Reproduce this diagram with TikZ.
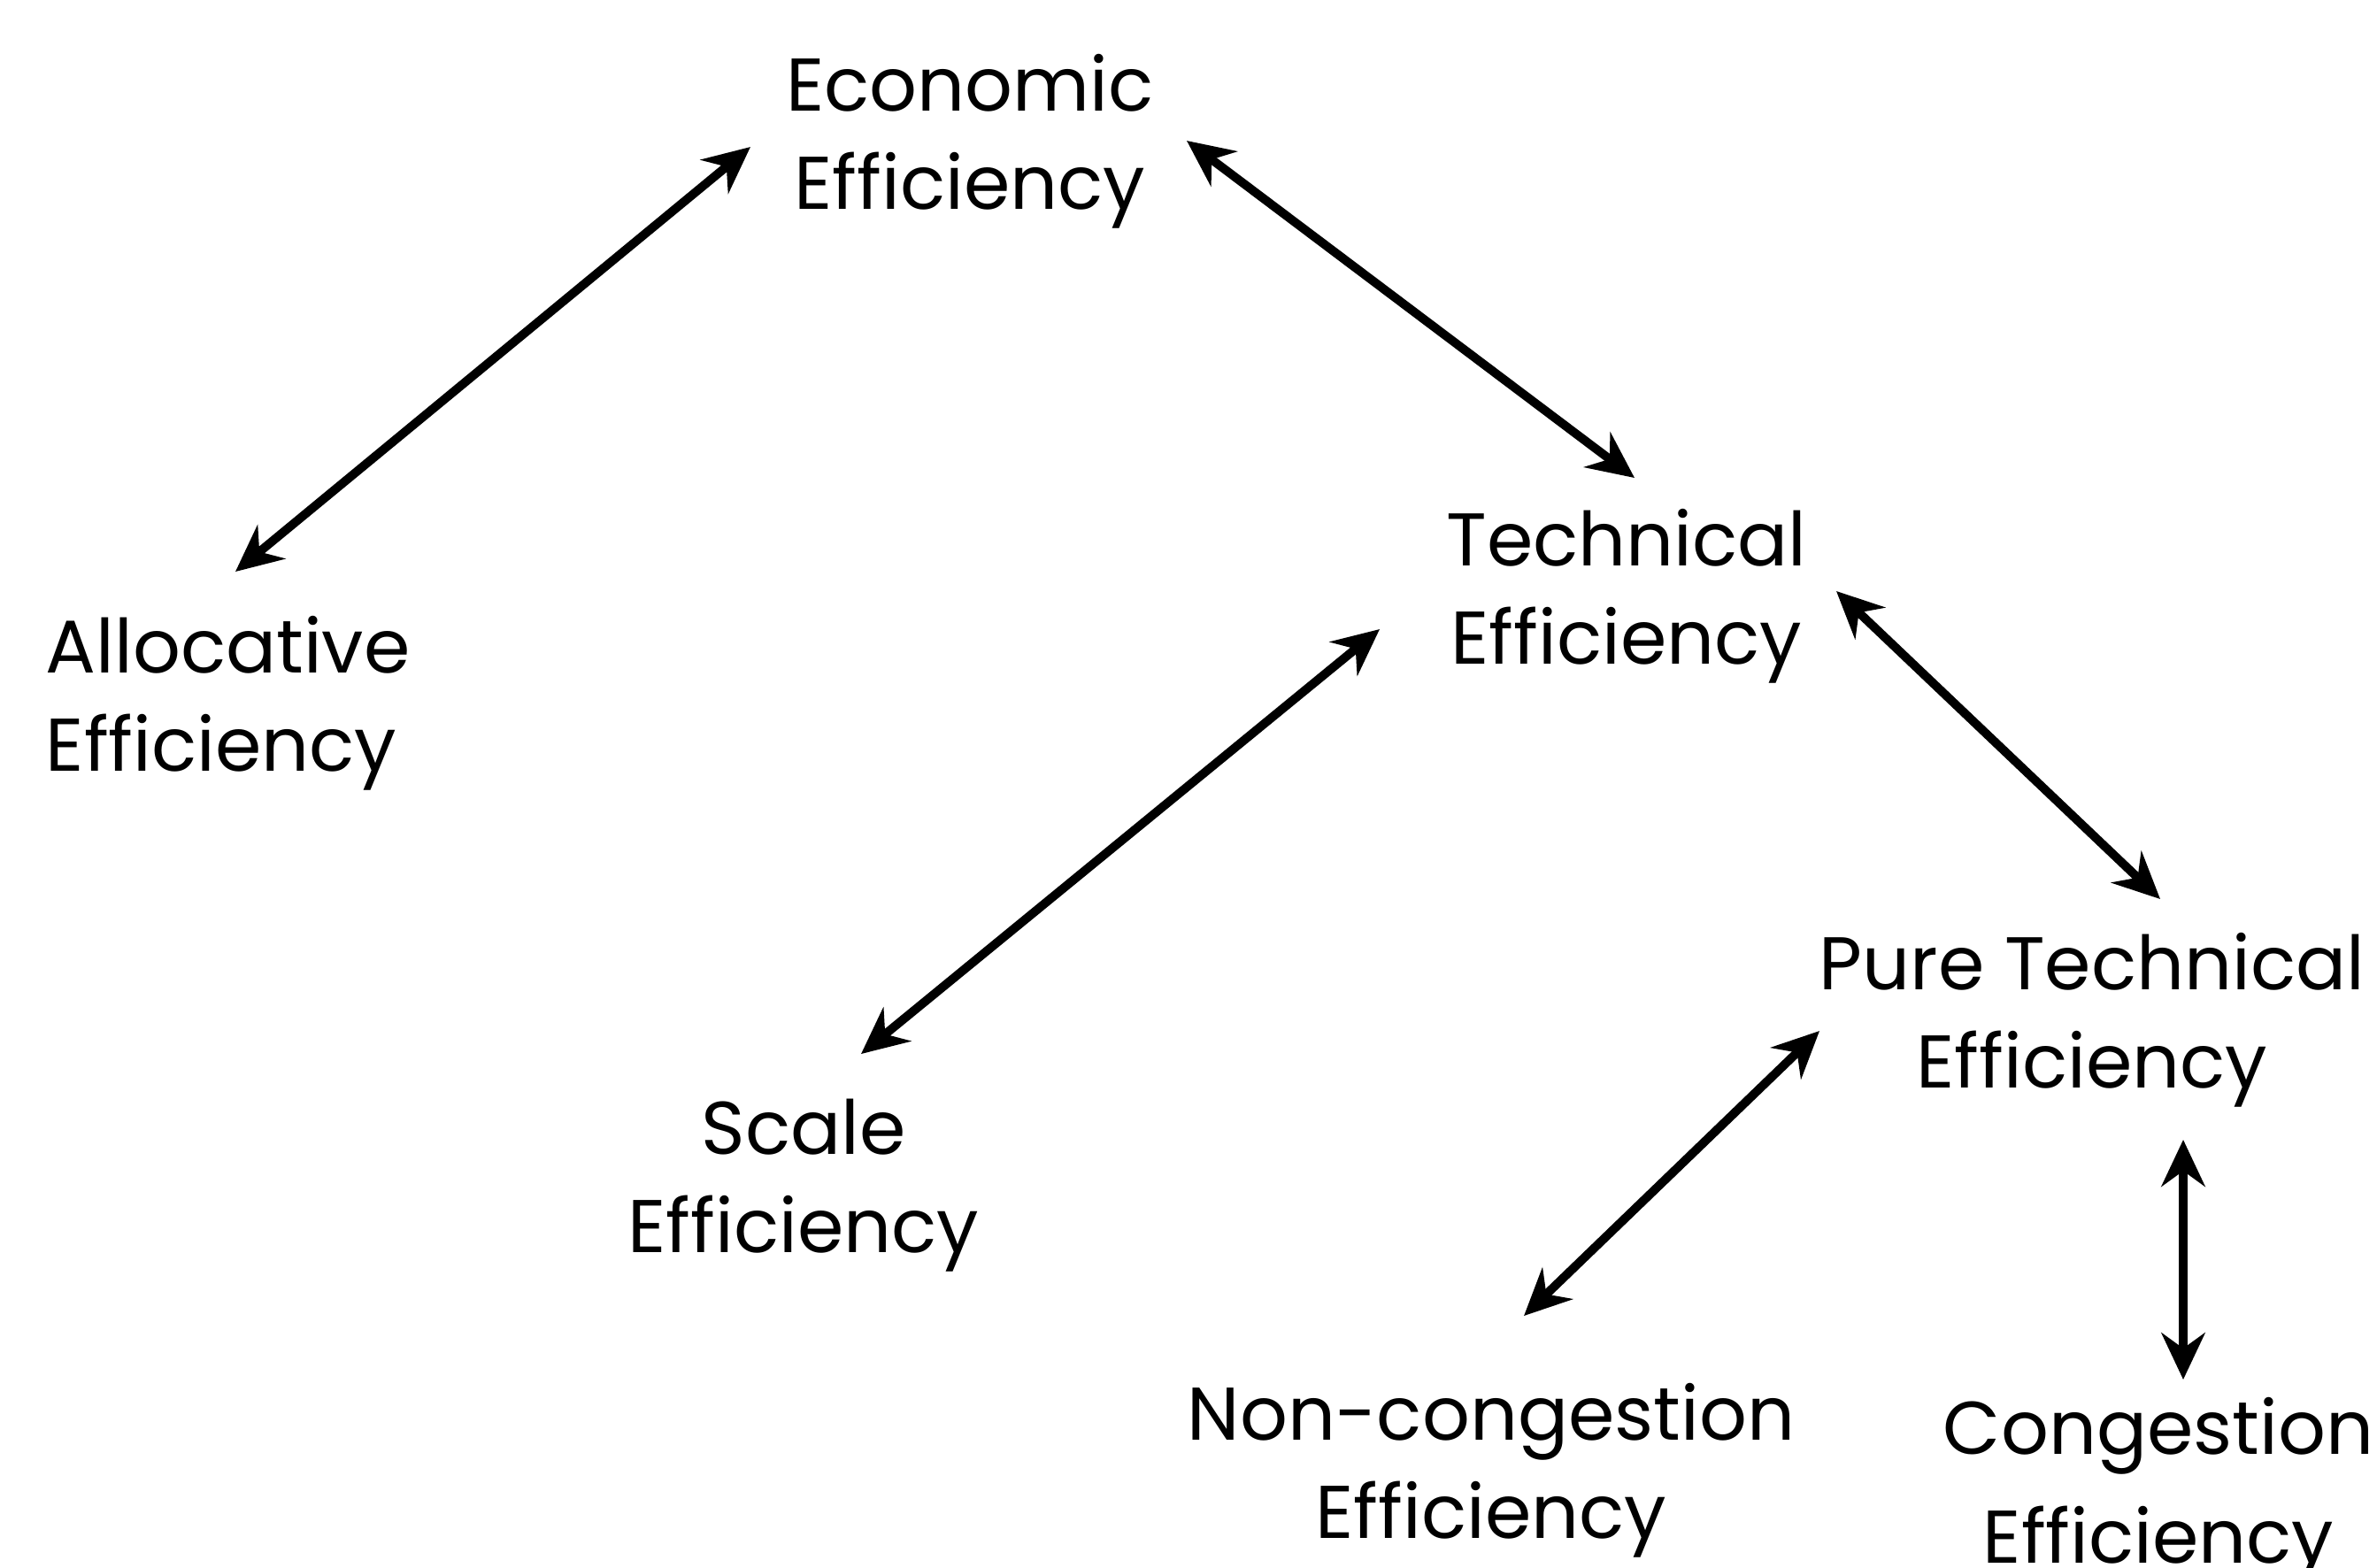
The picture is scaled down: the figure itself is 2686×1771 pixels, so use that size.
\documentclass[tikz,border=0pt]{standalone}
\usepackage{fontspec}
\setmainfont{Poppins}
\usetikzlibrary{arrows.meta}
\begin{document}
\begin{tikzpicture}[x=0.01cm,y=-0.01cm,
  lbl/.style={inner sep=0pt,align=center,font=\fontsize{24}{31.5}\selectfont},
  conn/.style={line width=2.8pt,{Stealth[length=15pt,width=14pt,inset=5pt]}-{Stealth[length=15pt,width=14pt,inset=5pt]}}]
\useasboundingbox (0,0) rectangle (2686,1771);
\node[lbl] (econ) at (1096,160) {Economic\\Efficiency};
\node[lbl,anchor=west,align=left] (alloc) at (51,795) {Allocative\\Efficiency};
\node[lbl] (tech) at (1838,674) {Technical\\Efficiency};
\node[lbl] (pure) at (2364,1153) {Pure Technical\\Efficiency};
\node[lbl] (scale) at (908,1340) {Scale\\Efficiency};
\node[lbl] (noncong) at (1685,1662) {Non-congestion\\Efficiency};
\node[lbl,font=\fontsize{24}{35}\selectfont] (cong) at (2439,1684) {Congestion\\Efficiency};
\coordinate (a1) at (266,646);  \coordinate (a2) at (848,166);
\coordinate (b1) at (1341,159); \coordinate (b2) at (1847,540);
\coordinate (c1) at (1559,711); \coordinate (c2) at (973,1191);
\coordinate (d1) at (2075,668); \coordinate (d2) at (2441,1016);
\coordinate (e1) at (2056,1165); \coordinate (e2) at (1722,1487);
\coordinate (f1) at (2467,1288); \coordinate (f2) at (2467,1559);
\draw[conn] (a1) -- (a2);
\draw[conn] (b1) -- (b2);
\draw[conn] (c1) -- (c2);
\draw[conn] (d1) -- (d2);
\draw[conn] (e1) -- (e2);
\draw[conn] (f1) -- (f2);
\end{tikzpicture}
\end{document}
